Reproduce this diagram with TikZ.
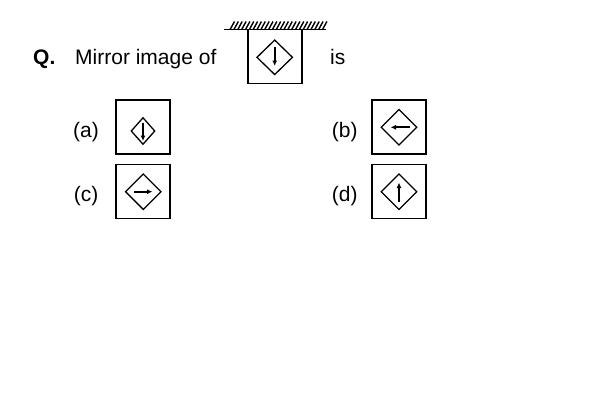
\documentclass[tikz,border=0pt]{standalone}
\usepackage{fontspec}
\setmainfont{Liberation Sans}
\usetikzlibrary{arrows.meta,shapes.geometric}
\begin{document}
\begin{tikzpicture}[x=1pt,y=-1pt,
  txt/.style={font=\fontsize{21}{25}\selectfont, inner sep=0pt},
  frame/.style={draw, line width=1.2pt, minimum width=54pt, minimum height=54pt, inner sep=0pt},
  dia/.style={draw, line width=1.3pt, diamond, inner sep=0pt, minimum width=36pt, minimum height=36pt},
  smalldia/.style={draw, line width=1.3pt, diamond, inner sep=0pt, minimum width=24pt, minimum height=27pt},
  arr/.style={line width=1.7pt, -{Latex[length=5.5pt,width=5pt]}},
  wall/.style={line width=1.2pt}
]
\useasboundingbox (0,0) rectangle (600,400);
% question
\node[txt, font=\fontsize{21}{25}\selectfont\bfseries, anchor=base west] (q) at (33,64.3) {Q.};
\node[txt, anchor=base west] (mi) at (75,64.3) {Mirror image of};
\node[txt, anchor=base west] (is) at (330,64.3) {is};
\node[frame] (qb) at (275,56.5) {};
\node[dia, minimum height=35pt] (qd) at (274.7,57.3) {};
\coordinate (qa1) at (274.7,47.3);
\coordinate (qa2) at (274.7,66);
\draw[arr] (qa1) -- (qa2);
% mirror wall
\coordinate (w1) at (224,29.7);
\coordinate (w2) at (326,29.7);
\draw[wall] (w1) -- (w2);
\foreach \i in {0,...,24} {
  \draw[line width=1.4pt] (230+3.85*\i,29.7) -- ++(4.5,-8.2);
}
% (a)
\node[txt] (la) at (86,132) {(a)};
\node[frame] (ba) at (143,127) {};
\node[smalldia] (da) at (143,131) {};
\coordinate (aa1) at (143,122.5);
\coordinate (aa2) at (143,141);
\draw[arr] (aa1) -- (aa2);
% (b)
\node[txt] (lb) at (344.7,132) {(b)};
\node[frame] (bb) at (399,127) {};
\node[dia] (db) at (399,127.3) {};
\coordinate (ba1) at (409.5,127.3);
\coordinate (ba2) at (390.5,127.3);
\draw[arr] (ba1) -- (ba2);
% (c)
\node[txt] (lc) at (86,196.5) {(c)};
\node[frame] (bc) at (143,191.3) {};
\node[dia] (dc) at (143.3,191.7) {};
\coordinate (ca1) at (133.5,191.7);
\coordinate (ca2) at (152.5,191.7);
\draw[arr] (ca1) -- (ca2);
% (d)
\node[txt] (ld) at (344.7,196.5) {(d)};
\node[frame] (bd) at (399,191.3) {};
\node[dia] (dd) at (399,191.7) {};
\coordinate (da1) at (399,202);
\coordinate (da2) at (399,182.5);
\draw[arr] (da1) -- (da2);
\end{tikzpicture}
\end{document}
